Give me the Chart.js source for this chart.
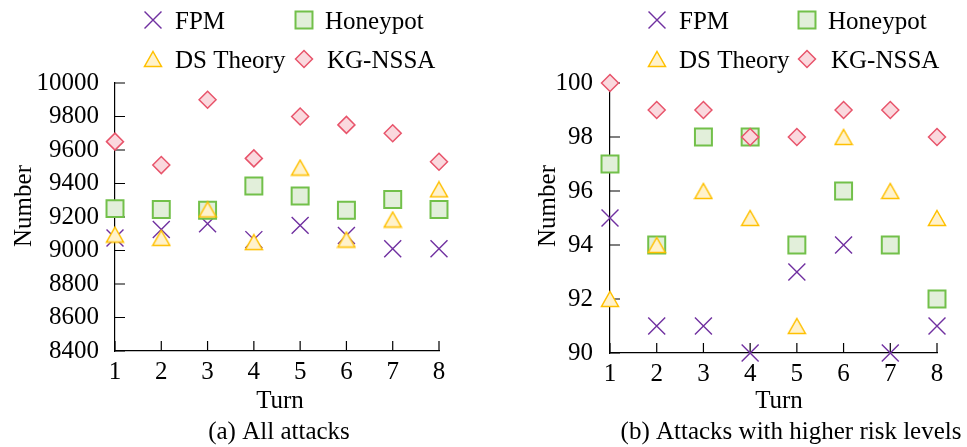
<!DOCTYPE html>
<html>
<head>
<meta charset="utf-8">
<script src="https://cdn.jsdelivr.net/npm/chart.js@4/dist/chart.umd.min.js"></script>
<style>
  html, body { margin: 0; padding: 0; background: #fff; }
  #wrap { position: relative; width: 967px; height: 447px; }
  .panel { position: absolute; top: 0; height: 447px; }
  #pa { left: 0; width: 485px; }
  #pb { left: 485px; width: 482px; }
</style>
</head>
<body>
<div id="wrap">
  <div class="panel" id="pa"><canvas id="ca"></canvas></div>
  <div class="panel" id="pb"><canvas id="cb"></canvas></div>
</div>
<script>
// ---- data ----
const turns = [1, 2, 3, 4, 5, 6, 7, 8];
const seriesNames = ['FPM', 'Honeypot', 'DS Theory', 'KG-NSSA'];

// (a) all attacks
const allFPM      = [9075, 9125, 9160, 9065, 9150, 9090, 9010, 9010];
const allHoneypot = [9250, 9245, 9240, 9385, 9325, 9240, 9305, 9245];
const allDS       = [9095, 9075, 9245, 9050, 9495, 9065, 9185, 9365];
const allKG       = [9650, 9510, 9900, 9550, 9800, 9750, 9700, 9530];
const allTicks    = { min: 8400, max: 10000, step: 200 };

// (b) attacks with higher risk levels
const highFPM      = [95, 91, 91, 90, 93, 94, 90, 91];
const highHoneypot = [97, 94, 98, 98, 94, 96, 94, 92];
const highDS       = [92, 94, 96, 95, 91, 98, 96, 95];
const highKG       = [100, 99, 99, 98, 98, 99, 99, 98];
const highTicks    = { min: 90, max: 100, step: 2 };

const FONT_FAMILY = '"Liberation Serif", "Times New Roman", serif';
const FONT_SIZE = 25;
const FONT = FONT_SIZE + 'px ' + FONT_FAMILY;

// triangle marker centred on its bounding box
function makeTriangle() {
  const c = document.createElement('canvas');
  c.width = 20; c.height = 18;
  const g = c.getContext('2d');
  g.beginPath();
  g.moveTo(10, 1.5);
  g.lineTo(18.5, 16.5);
  g.lineTo(1.5, 16.5);
  g.closePath();
  g.fillStyle = '#FFF2CC';
  g.fill();
  g.lineWidth = 1.5;
  g.strokeStyle = '#FFC000';
  g.lineJoin = 'miter';
  g.stroke();
  return c;
}
const triangleImg = makeTriangle();

const styles = [
  { pointStyle: 'crossRot', radius: 12, borderColor: '#7030A0', backgroundColor: '#7030A0', borderWidth: 1.4, order: 4 },
  { pointStyle: 'rect',     radius: 12, borderColor: '#72C04A', backgroundColor: '#E2EFDA', borderWidth: 2,   order: 3 },
  { pointStyle: triangleImg, radius: 9, borderColor: '#FFC000', backgroundColor: '#FFF2CC', borderWidth: 1.5, order: 2 },
  { pointStyle: 'rectRot',  radius: 8.5, borderColor: '#E8546B', backgroundColor: '#FAD9DE', borderWidth: 1.5, order: 1 }
];

function buildDatasets(valuesList) {
  return valuesList.map((vals, i) => ({
    label: seriesNames[i],
    data: turns.map((t, k) => ({ x: t, y: vals[k] })),
    showLine: false,
    pointStyle: styles[i].pointStyle,
    pointRadius: styles[i].radius,
    pointHoverRadius: styles[i].radius,
    pointBorderColor: styles[i].borderColor,
    pointBackgroundColor: styles[i].backgroundColor,
    pointBorderWidth: styles[i].borderWidth,
    borderColor: styles[i].borderColor,
    backgroundColor: styles[i].backgroundColor,
    order: styles[i].order,
    clip: false
  }));
}

// small tick marks drawn inside the plot, along the two axes
const innerTicks = {
  id: 'innerTicks',
  beforeDatasetsDraw(chart) {
    const { ctx, chartArea: a, scales: { x, y } } = chart;
    ctx.save();
    ctx.strokeStyle = '#000';
    ctx.lineWidth = 1.2;
    ctx.beginPath();
    y.ticks.forEach(t => {
      const p = y.getPixelForValue(t.value);
      ctx.moveTo(a.left, p);
      ctx.lineTo(a.left + 10, p);
    });
    x.ticks.forEach(t => {
      const p = x.getPixelForValue(t.value);
      ctx.moveTo(p, a.bottom);
      ctx.lineTo(p, a.bottom - 10);
    });
    ctx.stroke();
    ctx.restore();
  }
};

// legend grid, axis titles and sub-figure caption
const figText = {
  id: 'figText',
  afterDraw(chart, args, opts) {
    const ctx = chart.ctx;
    ctx.save();
    ctx.font = FONT;
    ctx.fillStyle = '#000';
    ctx.textBaseline = 'alphabetic';

    opts.legend.forEach((item, i) => {
      const ds = chart.data.datasets[i];
      ctx.save();
      ctx.strokeStyle = ds.pointBorderColor;
      ctx.fillStyle = ds.pointBackgroundColor;
      ctx.lineWidth = ds.pointBorderWidth;
      Chart.helpers.drawPoint(ctx, {
        pointStyle: ds.pointStyle,
        radius: ds.pointRadius,
        rotation: 0,
        borderWidth: ds.pointBorderWidth
      }, item.mx, item.my);
      ctx.restore();
      ctx.textAlign = 'left';
      ctx.fillText(ds.label, item.tx, item.ty);
    });

    // x axis title and caption
    ctx.textAlign = 'center';
    ctx.fillText(opts.xTitle.text, opts.xTitle.x, opts.xTitle.y);
    ctx.fillText(opts.caption.text, opts.caption.x, opts.caption.y);

    // y axis title, rotated
    ctx.save();
    ctx.translate(opts.yTitle.x, opts.yTitle.y);
    ctx.rotate(-Math.PI / 2);
    ctx.textAlign = 'center';
    ctx.fillText(opts.yTitle.text, 0, 0);
    ctx.restore();

    ctx.restore();
  }
};

function makeChart(canvasId, valuesList, tk, layout, text) {
  return new Chart(document.getElementById(canvasId), {
    type: 'scatter',
    data: { datasets: buildDatasets(valuesList) },
    plugins: [innerTicks, figText],
    options: {
      responsive: true,
      maintainAspectRatio: false,
      animation: false,
      events: [],
      layout: { padding: { top: 83, right: layout.right, bottom: 0, left: 0 } },
      plugins: {
        legend: { display: false },
        tooltip: { enabled: false },
        figText: text
      },
      scales: {
        x: {
          type: 'linear',
          min: 1, max: 8,
          offset: false,
          grid: { display: false, drawTicks: false },
          border: { display: true, color: '#000', width: 1.2 },
          ticks: {
            stepSize: 1,
            padding: 6,
            color: '#000',
            font: { family: FONT_FAMILY, size: FONT_SIZE },
            callback: v => String(v)
          },
          afterFit(s) { s.height = layout.xHeight; }
        },
        y: {
          type: 'linear',
          min: tk.min, max: tk.max,
          grid: { display: false, drawTicks: false },
          border: { display: true, color: '#000', width: 1.2 },
          ticks: {
            stepSize: tk.step,
            padding: layout.yPad,
            color: '#000',
            font: { family: FONT_FAMILY, size: FONT_SIZE },
            callback: v => String(v)
          },
          afterFit(s) { s.width = layout.yWidth; }
        }
      }
    }
  });
}

makeChart('ca', [allFPM, allHoneypot, allDS, allKG], allTicks,
  { right: 46, xHeight: 96, yWidth: 115, yPad: 16 },
  {
    legend: [
      { mx: 153, my: 20, tx: 175, ty: 29 },
      { mx: 304, my: 20, tx: 325, ty: 29 },
      { mx: 153, my: 59, tx: 175, ty: 68 },
      { mx: 304, my: 59, tx: 327, ty: 68 }
    ],
    xTitle: { text: 'Turn', x: 280, y: 408 },
    caption: { text: '(a) All attacks', x: 279, y: 439 },
    yTitle: { text: 'Number', x: 31, y: 206 }
  });

makeChart('cb', [highFPM, highHoneypot, highDS, highKG], highTicks,
  { right: 30, xHeight: 94, yWidth: 125, yPad: 17 },
  {
    legend: [
      { mx: 172, my: 20, tx: 194, ty: 29 },
      { mx: 322, my: 20, tx: 343, ty: 29 },
      { mx: 172, my: 59, tx: 194, ty: 68 },
      { mx: 322, my: 59, tx: 346, ty: 68 }
    ],
    xTitle: { text: 'Turn', x: 294, y: 408 },
    caption: { text: '(b) Attacks with higher risk levels', x: 306, y: 439 },
    yTitle: { text: 'Number', x: 70, y: 206 }
  });
</script>
</body>
</html>
